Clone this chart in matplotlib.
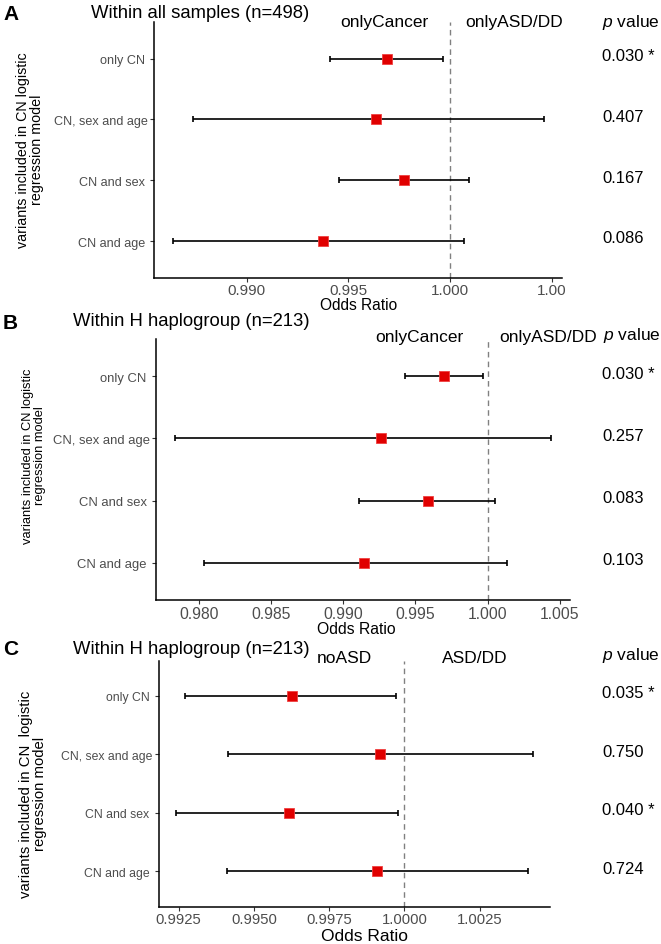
import matplotlib
matplotlib.use("Agg")
import matplotlib.pyplot as plt
from matplotlib.transforms import blended_transform_factory

plt.rcParams['font.family'] = ['Liberation Sans', 'DejaVu Sans']
plt.rcParams['mathtext.fontset'] = 'custom'
plt.rcParams['mathtext.it'] = 'Liberation Sans:italic'
plt.rcParams['mathtext.rm'] = 'Liberation Sans'

W, H = 661, 945

# models, top to bottom
rows = ["only CN ", "CN, sex and age", "CN and sex ", "CN and age "]

# panel A - all samples
or_a = [0.99692, 0.99635, 0.99774, 0.99375]
lo_a = [0.99411, 0.98738, 0.99454, 0.98636]
hi_a = [0.99967, 1.00461, 1.00093, 1.00067]
p_a = ["0.030 *", "0.407", "0.167", "0.086"]
ticks_a = [0.990, 0.995, 1.000, 1.005]
ticklab_a = ["0.990", "0.995", "1.000", "1.00"]

# panel B - H haplogroup, cancer vs ASD/DD
or_b = [0.99699, 0.99261, 0.99587, 0.99141]
lo_b = [0.99425, 0.97832, 0.99109, 0.98035]
hi_b = [0.99965, 1.00441, 1.00048, 1.00132]
p_b = ["0.030 *", "0.257", "0.083", "0.103"]
ticks_b = [0.980, 0.985, 0.990, 0.995, 1.000, 1.005]
ticklab_b = ["0.980", "0.985", "0.990", "0.995", "1.000", "1.005"]

# panel C - H haplogroup, noASD vs ASD/DD
or_c = [0.99626, 0.99919, 0.99617, 0.99910]
lo_c = [0.99271, 0.99415, 0.99242, 0.99412]
hi_c = [0.99971, 1.00429, 0.99979, 1.00410]
p_c = ["0.035 *", "0.750", "0.040 *", "0.724"]
ticks_c = [0.9925, 0.9950, 0.9975, 1.0000, 1.0025]
ticklab_c = ["0.9925", "0.9950", "0.9975", "1.0000", "1.0025"]

titles = ["Within all samples (n=498)", "Within H haplogroup (n=213)", "Within H haplogroup (n=213)"]
side_labels = [("onlyCancer", "onlyASD/DD"), ("onlyCancer", "onlyASD/DD"), ("noASD", "ASD/DD")]
ylabels = ["variants included in CN logistic\nregression model",
           "variants included in CN logistic\nregression model",
           "variants included in CN  logistic\nregression model"]


def fx(x):
    return x / W


def fy(y):
    return 1 - y / H


fig = plt.figure(figsize=(W / 100, H / 100), dpi=100)


def panel(box, lo, mid, hi, pv, xlim, ticks, ticklab, tick_fs, ytick_fs):
    l, r, t, b = box
    ax = fig.add_axes([fx(l), fy(b), (r - l) / W, (b - t) / H])
    ypos = [4, 3, 2, 1]
    xerr = [[m - a for m, a in zip(mid, lo)], [c - m for m, c in zip(mid, hi)]]
    ax.errorbar(mid, ypos, xerr=xerr, fmt='none', ecolor='black', elinewidth=1.2,
                capsize=2.3, capthick=1.2, zorder=2)
    ax.plot(mid, ypos, 's', ms=6.8, mfc='#E00000', mec='#F04040', mew=0.6, zorder=3)
    ax.axvline(1.0, color='#808080', lw=1.0, ls=(0, (4, 3)), zorder=1)
    ax.set_xlim(*xlim)
    ax.set_ylim(0.4, 4.6)
    ax.set_yticks(ypos)
    ax.set_yticklabels(rows, fontsize=ytick_fs, color='#4D4D4D')
    ax.set_xticks(ticks)
    ax.set_xticklabels(ticklab, fontsize=tick_fs, color='#4D4D4D')
    ax.tick_params(length=2.6, width=0.8, color='#333333', pad=1.5)
    for s in ['top', 'right']:
        ax.spines[s].set_visible(False)
    for s in ['left', 'bottom']:
        ax.spines[s].set_linewidth(1.1)
    tr = blended_transform_factory(fig.transFigure, ax.transData)
    for y, p in zip(ypos, pv):
        ax.text(fx(602), y + 0.05, p, transform=tr, fontsize=12, ha='left', va='center', clip_on=False)
    return ax


boxes = [(154, 561.7, 23, 278.5), (156, 570, 340, 601), (158.5, 550, 661.7, 907.5)]
panel(boxes[0], lo_a, or_a, hi_a, p_a, (0.98544, 1.00549), ticks_a, ticklab_a, 11, 9.1)
panel(boxes[1], lo_b, or_b, hi_b, p_b, (0.97703, 1.0057), ticks_b, ticklab_b, 11.3, 9.4)
panel(boxes[2], lo_c, or_c, hi_c, p_c, (0.99183, 1.00484), ticks_c, ticklab_c, 10.7, 8.8)

# panel letters and titles
for letter, (x, y) in zip("ABC", [(11, 14), (10.5, 323.5), (10.5, 650)]):
    fig.text(fx(x), fy(y), letter, fontsize=15, fontweight='bold', ha='center', va='center')
for title, (x, y) in zip(titles, [(200.3, 13), (191.7, 322), (191.3, 650)]):
    fig.text(fx(x), fy(y), title, fontsize=13.3, ha='center', va='center')

# direction labels above each panel
side_pos = [((384.5, 22.5), (514, 22.5)), ((419.5, 337.5), (548, 337.5)), ((344, 658.3), (475, 658.3))]
for (left_lab, right_lab), ((x1, y1), (x2, y2)) in zip(side_labels, side_pos):
    fig.text(fx(x1), fy(y1), left_lab, fontsize=12.5, ha='center', va='center')
    fig.text(fx(x2), fy(y2), right_lab, fontsize=12.5, ha='center', va='center')

for x, y in [(601.7, 22.5), (603.3, 335.7), (601.7, 655.7)]:
    fig.text(fx(x), fy(y), "$p$ value", fontsize=12.5, ha='left', va='center')

# axis titles
for (x, y), fs in zip([(359, 305), (356, 629), (365, 937)], [11.2, 11.3, 12.5]):
    fig.text(fx(x), fy(y), "Odds Ratio", fontsize=fs, ha='center', va='center')
for lab, (x, y), fs in zip(ylabels, [(30, 150), (34, 456), (33, 794)], [10.3, 9.3, 10.7]):
    fig.text(fx(x), fy(y), lab, fontsize=fs, rotation=90, ha='center', va='center',
             multialignment='center', linespacing=0.95)

fig.savefig("out.png", dpi=100)
